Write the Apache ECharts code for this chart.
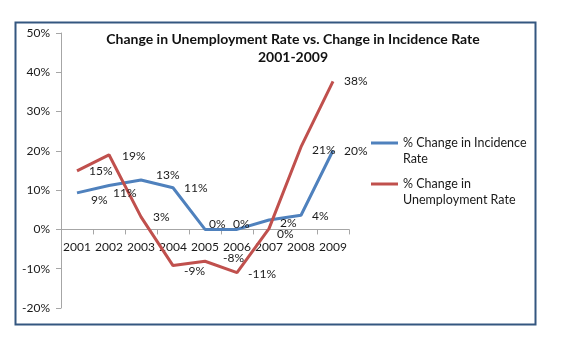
<!DOCTYPE html>
<html><head><meta charset="utf-8">
<script src="https://cdn.jsdelivr.net/npm/echarts@6/dist/echarts.min.js"></script>
<style>html,body{margin:0;padding:0;background:#fff}#c{width:574px;height:344px}</style>
</head><body><div id="c"></div>
<script>
const years = ['2001','2002','2003','2004','2005','2006','2007','2008','2009'];
const incidence = [9.3, 11.2, 12.6, 10.6, 0, 0, 2.4, 3.6, 20.1];
const unemployment = [14.9, 19, 3.2, -9.2, -8.1, -11, 0.2, 21, 37.7];
const seriesNames = ['% Change in Incidence\nRate', '% Change in\nUnemployment Rate'];
const titleText = 'Change in Unemployment Rate vs. Change in Incidence Rate\n2001-2009';

// label placement tweaks (styling only), [dx, dy] per point
const incidenceLabelNudge = [[3,7],[-7,8],[4,-5],[0,0],[-7,-5],[-15,-5],[0,3],[0,1],[0,1]];
const unemploymentLabelNudge = [[1,0],[2,1],[1,0],[0,6],[7,-3],[0,1],[-3,5],[0,3],[0,0]];

const font = 'Lato, "Open Sans", sans-serif';
const chart = echarts.init(document.getElementById('c'));
const labelCfg = {
  show: true, position: 'right', distance: 11,
  fontFamily: font, fontSize: 12, color: '#1a1a1a',
  formatter: p => Math.round(p.value) + '%'
};
const withNudge = (vals, nudges) => vals.map((v, i) => ({ value: v, label: { offset: nudges[i] } }));
const legendCommon = {
  orient: 'vertical', left: 366, itemWidth: 27, itemHeight: 16,
  icon: 'path://M0,7L27,7L27,10L0,10Z',
  formatter: name => ' \n' + name,
  textStyle: { fontFamily: font, fontSize: 12.5, color: '#1a1a1a', lineHeight: 16 }
};
chart.setOption({
  animation: false,
  backgroundColor: '#fff',
  title: {
    text: titleText, left: 288, top: 25, textAlign: 'center',
    textStyle: { fontFamily: font, fontSize: 14, fontWeight: 'bold', color: '#111', lineHeight: 18 }
  },
  legend: [
    Object.assign({}, legendCommon, { top: 114, data: [seriesNames[0]] }),
    Object.assign({}, legendCommon, { top: 155, data: [seriesNames[1]] })
  ],
  grid: { left: 61, top: 33, width: 288, height: 275 },
  xAxis: {
    type: 'category', data: years, boundaryGap: true,
    axisLine: { onZero: true, lineStyle: { color: '#a6a6a6', width: 1 } },
    axisTick: { show: true, length: 5, lineStyle: { color: '#a6a6a6' } },
    axisLabel: { fontFamily: font, fontSize: 12, color: '#1a1a1a', margin: -67, interval: 0 }
  },
  yAxis: {
    type: 'value', min: -20, max: 50, interval: 10,
    splitLine: { show: false },
    axisLine: { show: true, lineStyle: { color: '#a6a6a6' } },
    axisTick: { show: true, length: 5, lineStyle: { color: '#a6a6a6' } },
    axisLabel: { fontFamily: font, fontSize: 12, color: '#1a1a1a', margin: 11, formatter: '{value}%' }
  },
  series: [
    { name: seriesNames[0], type: 'line', data: withNudge(incidence, incidenceLabelNudge),
      symbol: 'circle', symbolSize: 0, showSymbol: true,
      lineStyle: { color: '#4f81bd', width: 3 }, itemStyle: { color: '#4f81bd' }, label: labelCfg },
    { name: seriesNames[1], type: 'line', data: withNudge(unemployment, unemploymentLabelNudge),
      symbol: 'circle', symbolSize: 0, showSymbol: true,
      lineStyle: { color: '#c0504d', width: 3 }, itemStyle: { color: '#c0504d' }, label: labelCfg }
  ],
  graphic: [{
    type: 'rect', left: 13, top: 20, shape: { width: 520, height: 302 },
    style: { fill: 'none', stroke: '#345780', lineWidth: 2 }, silent: true
  }]
});
</script></body></html>
